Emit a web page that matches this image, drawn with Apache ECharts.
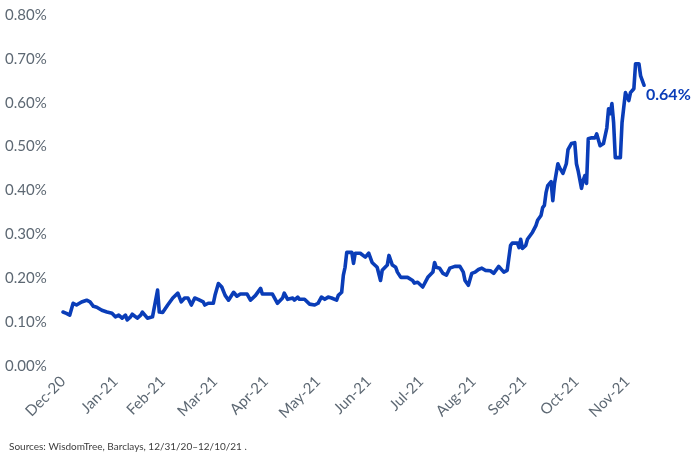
<!DOCTYPE html>
<html>
<head>
<meta charset="utf-8">
<title>Yield chart</title>
<script src="https://cdn.jsdelivr.net/npm/echarts@6/dist/echarts.min.js"></script>
<style>
  html, body { margin: 0; padding: 0; background: #fff; }
  #chart { width: 700px; height: 464px; }
</style>
</head>
<body>
<div id="chart"></div>
<script>
  // dates (x position -> calendar day)
  const dates = [
    '2020-12-31', '2021-01-02', '2021-01-04', '2021-01-06', '2021-01-08', '2021-01-11', '2021-01-14', '2021-01-16',
    '2021-01-18', '2021-01-20', '2021-01-23', '2021-01-26', '2021-01-29', '2021-01-31', '2021-02-02', '2021-02-04',
    '2021-02-06', '2021-02-07', '2021-02-09', '2021-02-10', '2021-02-13', '2021-02-15', '2021-02-16', '2021-02-19',
    '2021-02-22', '2021-02-23', '2021-02-25', '2021-02-26', '2021-02-28', '2021-03-03', '2021-03-04', '2021-03-06',
    '2021-03-09', '2021-03-11', '2021-03-13', '2021-03-15', '2021-03-17', '2021-03-19', '2021-03-21', '2021-03-24',
    '2021-03-25', '2021-03-27', '2021-03-30', '2021-03-31', '2021-04-02', '2021-04-04', '2021-04-06', '2021-04-08',
    '2021-04-11', '2021-04-13', '2021-04-15', '2021-04-19', '2021-04-21', '2021-04-24', '2021-04-27', '2021-04-28',
    '2021-05-01', '2021-05-04', '2021-05-07', '2021-05-10', '2021-05-11', '2021-05-13', '2021-05-16', '2021-05-17',
    '2021-05-19', '2021-05-20', '2021-05-23', '2021-05-26', '2021-05-29', '2021-05-31', '2021-06-02', '2021-06-04',
    '2021-06-06', '2021-06-08', '2021-06-11', '2021-06-12', '2021-06-14', '2021-06-15', '2021-06-16', '2021-06-17',
    '2021-06-20', '2021-06-21', '2021-06-22', '2021-06-25', '2021-06-28', '2021-06-30', '2021-07-02', '2021-07-05',
    '2021-07-07', '2021-07-08', '2021-07-11', '2021-07-12', '2021-07-14', '2021-07-16', '2021-07-17', '2021-07-19',
    '2021-07-20', '2021-07-23', '2021-07-26', '2021-07-27', '2021-07-29', '2021-08-01', '2021-08-02', '2021-08-04',
    '2021-08-07', '2021-08-08', '2021-08-09', '2021-08-11', '2021-08-13', '2021-08-15', '2021-08-17', '2021-08-20',
    '2021-08-23', '2021-08-25', '2021-08-26', '2021-08-28', '2021-08-30', '2021-09-01', '2021-09-03', '2021-09-05',
    '2021-09-07', '2021-09-10', '2021-09-12', '2021-09-15', '2021-09-18', '2021-09-20', '2021-09-22', '2021-09-23',
    '2021-09-26', '2021-09-27', '2021-09-28', '2021-09-29', '2021-10-01', '2021-10-02', '2021-10-05', '2021-10-07',
    '2021-10-08', '2021-10-10', '2021-10-11', '2021-10-12', '2021-10-13', '2021-10-14', '2021-10-16', '2021-10-17',
    '2021-10-18', '2021-10-20', '2021-10-21', '2021-10-23', '2021-10-25', '2021-10-26', '2021-10-28', '2021-10-30',
    '2021-10-31', '2021-11-01', '2021-11-03', '2021-11-04', '2021-11-05', '2021-11-06', '2021-11-07', '2021-11-09',
    '2021-11-11', '2021-11-12', '2021-11-14', '2021-11-16', '2021-11-18', '2021-11-19', '2021-11-20', '2021-11-21',
    '2021-11-22', '2021-11-23', '2021-11-26', '2021-11-27', '2021-11-28', '2021-11-29', '2021-12-01', '2021-12-02',
    '2021-12-04', '2021-12-05', '2021-12-07', '2021-12-08', '2021-12-10'
  ];

  // yield in %
  const values = [
    0.123, 0.120, 0.116, 0.143, 0.139, 0.146, 0.150, 0.146,
    0.136, 0.134, 0.127, 0.123, 0.120, 0.112, 0.116, 0.109,
    0.116, 0.105, 0.112, 0.118, 0.109, 0.116, 0.123, 0.109,
    0.112, 0.116, 0.173, 0.123, 0.122, 0.139, 0.143, 0.155,
    0.166, 0.146, 0.155, 0.155, 0.139, 0.155, 0.152, 0.146,
    0.139, 0.143, 0.143, 0.161, 0.188, 0.180, 0.161, 0.150,
    0.168, 0.159, 0.164, 0.164, 0.150, 0.161, 0.177, 0.164,
    0.164, 0.164, 0.143, 0.155, 0.166, 0.152, 0.155, 0.150,
    0.157, 0.152, 0.152, 0.141, 0.139, 0.143, 0.157, 0.152,
    0.157, 0.155, 0.150, 0.161, 0.168, 0.207, 0.225, 0.259,
    0.259, 0.234, 0.257, 0.257, 0.248, 0.257, 0.236, 0.225,
    0.195, 0.218, 0.230, 0.252, 0.230, 0.225, 0.214, 0.202,
    0.200, 0.202, 0.195, 0.189, 0.191, 0.180, 0.177, 0.202,
    0.214, 0.236, 0.225, 0.223, 0.211, 0.207, 0.223, 0.227,
    0.227, 0.214, 0.195, 0.184, 0.211, 0.214, 0.220, 0.223,
    0.218, 0.217, 0.211, 0.227, 0.214, 0.218, 0.275, 0.280,
    0.280, 0.270, 0.289, 0.268, 0.275, 0.289, 0.305, 0.320,
    0.332, 0.343, 0.361, 0.366, 0.395, 0.411, 0.420, 0.377,
    0.416, 0.461, 0.452, 0.439, 0.461, 0.493, 0.507, 0.509,
    0.461, 0.445, 0.405, 0.423, 0.434, 0.416, 0.518, 0.520,
    0.520, 0.529, 0.502, 0.507, 0.543, 0.586, 0.575, 0.598,
    0.555, 0.475, 0.475, 0.555, 0.559, 0.623, 0.605, 0.623,
    0.632, 0.689, 0.689, 0.661, 0.640
  ];

  // month labels sit on month-end dates
  const tickDates = [
    '2020-12-31', '2021-01-31', '2021-02-28', '2021-03-31', '2021-04-30', '2021-05-31',
    '2021-06-30', '2021-07-31', '2021-08-31', '2021-09-30', '2021-10-31', '2021-11-30'
  ];
  const tickLabels = [
    'Dec-20', 'Jan-21', 'Feb-21', 'Mar-21', 'Apr-21', 'May-21',
    'Jun-21', 'Jul-21', 'Aug-21', 'Sep-21', 'Oct-21', 'Nov-21'
  ];
  const yTicks = [0, 0.1, 0.2, 0.3, 0.4, 0.5, 0.6, 0.7, 0.8];

  const sourceText = 'Sources: WisdomTree, Barclays, 12/31/20–12/10/21 .';

  const toTime = d => +echarts.time.parse(d);
  const tickTimes = tickDates.map(toTime);
  const labelByTime = {};
  tickTimes.forEach((t, i) => { labelByTime[t] = tickLabels[i]; });

  const lineColor = '#0a3db8';
  const textGray = '#5d6873';

  const chart = echarts.init(document.getElementById('chart'));
  const option = {
    animation: false,
    grid: {
      left: 63,
      right: 56,
      top: 15,
      bottom: 98
    },
    title: {
      text: sourceText,
      left: 4,
      bottom: 7,
      textStyle: {
        fontFamily: 'Lato, sans-serif',
        fontSize: 10,
        fontWeight: 'normal',
        color: '#3d3d3d'
      }
    },
    xAxis: {
      type: 'value',
      min: toTime(dates[0]),
      max: toTime(dates[dates.length - 1]),
      axisLine: { show: false },
      axisTick: { show: false },
      splitLine: { show: false },
      axisLabel: {
        customValues: tickTimes,
        rotate: 45,
        margin: 13,
        fontFamily: 'Lato, sans-serif',
        fontSize: 15,
        color: textGray,
        formatter: function (val) {
          return labelByTime[val] || '';
        }
      }
    },
    yAxis: {
      type: 'value',
      min: yTicks[0],
      max: yTicks[yTicks.length - 1],
      interval: 0.1,
      axisLine: { show: false },
      axisTick: { show: false },
      splitLine: { show: false },
      axisLabel: {
        align: 'left',
        margin: 58,
        fontFamily: 'Lato, sans-serif',
        fontSize: 15,
        color: textGray,
        formatter: function (v) {
          return v.toFixed(2) + '%';
        }
      }
    },
    series: [
      {
        type: 'line',
        data: dates.map((d, i) => [toTime(d), values[i]]),
        showSymbol: false,
        lineStyle: {
          color: lineColor,
          width: 3.6,
          join: 'round',
          cap: 'round'
        },
        endLabel: {
          show: true,
          distance: 2,
          offset: [0, 10],
          color: lineColor,
          fontFamily: 'Lato, sans-serif',
          fontWeight: 'bold',
          fontSize: 16,
          formatter: function (p) {
            return p.value[1].toFixed(2) + '%';
          }
        }
      }
    ]
  };
  chart.setOption(option);
</script>
</body>
</html>
